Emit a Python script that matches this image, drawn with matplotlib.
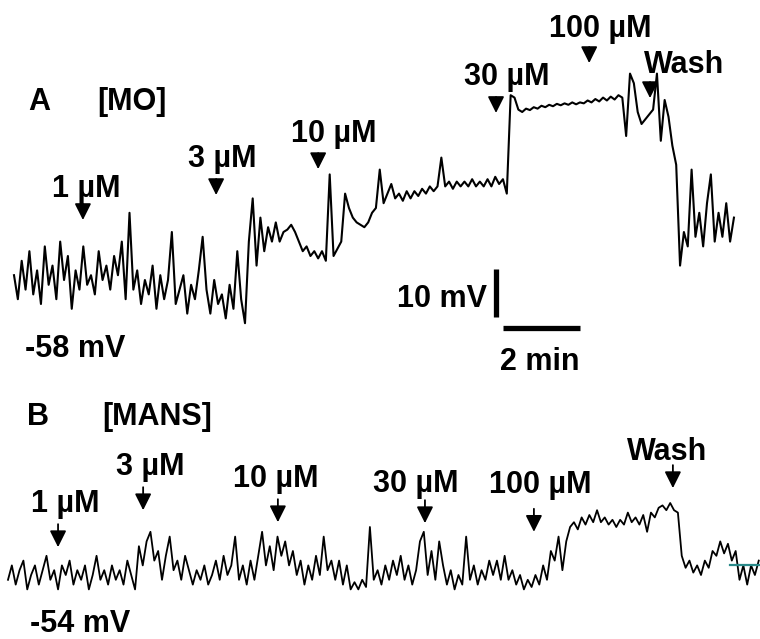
import matplotlib
matplotlib.use('Agg')
import matplotlib.pyplot as plt
import numpy as np

plt.rcParams['font.family'] = ['Liberation Sans', 'DejaVu Sans']
plt.rcParams['font.weight'] = 'bold'

dt = 0.1

# A: membrane potential during [MO] applications (mV)
mo_mv = [
    -57, -62, -54, -60, -52, -61, -56, -63, -51, -59,
    -55, -62, -50, -58, -53, -64, -56, -60, -51, -59,
    -57, -61, -52, -58, -55, -60, -53, -57, -50, -62,
    -44, -60, -56, -63, -58, -61, -55, -64, -57, -62,
    -58, -48, -63, -60, -57, -65, -59, -62, -56, -49,
    -60, -65, -58, -63, -61, -66, -59, -64, -52, -62, -67,
    -50, -41, -55, -45, -52, -47, -50, -46, -50, -48,
    -47.5, -46.5, -48, -50, -52, -51, -53, -52, -53.5, -52,
    -54, -36, -53, -51.5, -50, -40, -43, -45, -46, -46.5,
    -47, -46, -44, -43, -35, -42, -40, -38, -41, -40,
    -41.5, -39.5, -41, -39.5, -40.5, -39, -40, -38.5, -39.5, -38.5,
    -32.5, -38.5, -37.5, -39, -37.5, -38.5, -37.5, -38.5, -37, -38.5,
    -37.5, -38.5, -37, -38.5, -36.5, -38, -37, -40,
    -19.5, -20, -22.5, -23, -22.3, -22.6, -22, -22.3, -21.7, -22,
    -21.5, -21.8, -21.3, -21.6, -21.2, -21.5, -21, -21.4, -21, -21.2,
    -20.6, -21, -20.3, -20.8, -20, -20.6, -19.8, -20.4, -19.5, -20,
    -28, -15, -17, -23, -25.5, -24.5, -23.5, -22.5, -15, -29,
    -20.5, -24, -30, -34, -55, -48, -51, -35, -49, -44,
    -51, -42, -36, -50, -44, -49, -42, -50, -45,
]

# B: membrane potential during [MANS] applications (mV)
mans_mv = [
    -55, -52, -56, -53, -51, -57, -54, -52, -56, -53,
    -50, -55, -53, -57, -52, -54, -51, -56, -53, -55,
    -52, -57, -54, -50, -55, -53, -56, -52, -55, -53,
    -56, -51, -54, -57, -48, -52, -47, -45, -51, -49,
    -55, -50, -46, -53, -51, -55, -50, -53, -56, -53,
    -55, -52, -56, -54, -51, -55, -50, -54, -52, -46,
    -55, -52, -56, -51, -55, -50, -45, -52, -48, -53,
    -46, -50, -47, -52, -49, -54, -51, -56, -52, -55,
    -50, -54, -46, -53, -51, -55, -51, -56, -52, -57,
    -55.5, -57, -55, -56.5, -44, -55, -53, -56, -52, -55,
    -51, -54, -50, -55, -52, -56, -53, -47, -45, -54,
    -49, -55, -47, -52, -56, -53, -57, -54, -56, -46,
    -55, -52, -56, -53, -55, -51, -54, -51, -55, -50,
    -55, -53, -56, -54, -57, -55, -56.5, -54, -56, -52,
    -55, -49, -51, -46, -53, -47, -44, -43, -44.5, -42,
    -43.5, -41.5, -43, -40.5, -43, -42, -43.5, -42.5, -44, -42.5,
    -43.5, -41, -43, -42, -43.5, -41.5, -45, -41, -42, -40,
    -39.5, -40.5, -39, -40.5, -41, -50, -52.5, -51, -53.5, -52,
    -54, -51, -52.5, -49, -50, -47, -49.5, -47.5, -51, -49,
    -55, -52, -56, -52, -54, -51,
]

# drug applications: label, time of arrow (min), arrow tip (mV)
mo_labels = ['1 µM', '3 µM', '10 µM', '30 µM', '100 µM', 'Wash']
mo_times = [1.79, 5.25, 7.90, 12.52, 14.94, 16.52]
mo_tips = [-45.5, -40.3, -34.9, -23.2, -12.8, -20.1]

mans_labels = ['1 µM', '3 µM', '10 µM', '30 µM', '100 µM', 'Wash']
mans_times = [1.30, 3.51, 7.01, 10.83, 13.66, 17.27]
mans_tips = [-48.2, -40.5, -43.0, -43.2, -45.0, -35.9]

# label placement (time of text centre, baseline in mV)
mo_text_t = [1.87, 5.40, 8.31, 12.81, 15.22, 17.40]
mo_text_v = [-40.7, -34.5, -29.3, -17.4, -7.4, -14.9]
mans_text_t = [1.48, 3.69, 6.96, 10.60, 13.82, 17.12]
mans_text_v = [-40.9, -33.2, -35.7, -36.7, -36.9, -30.0]

W, H = 760, 639
px_min = 38.5   # pixels per minute
px_mv = 4.8     # pixels per mV

fig = plt.figure(figsize=(W / 100, H / 100), dpi=100)
axA = fig.add_axes([0, 0, 1, 1])
axB = fig.add_axes([0, 0, 1, 1])
for ax in (axA, axB):
    ax.axis('off')
    ax.patch.set_alpha(0)

# origin of each trace in pixels: (x of t=0, y of resting potential)
axA.set_xlim(-14 / px_min, (W - 14) / px_min)
axA.set_ylim(-58 - (H - 280) / px_mv, -58 + 280 / px_mv)
axB.set_xlim(-8 / px_min, (W - 8) / px_min)
axB.set_ylim(-54 - (H - 575) / px_mv, -54 + 575 / px_mv)

tA = np.arange(len(mo_mv)) * dt
tB = np.arange(len(mans_mv)) * dt
axA.plot(tA, mo_mv, color='black', lw=1.5)
axB.plot(tB, mans_mv, color='black', lw=1.3)
axB.plot([18.75, tB[-1] + 0.05], [-51.9, -51.9], color='#2a8a8a', lw=1.6)

head = 14 / px_mv


def arrows(ax, times, tips, stem, labels, text_t, text_v):
    for t, v, lab, tt, tv in zip(times, tips, labels, text_t, text_v):
        ax.annotate('', xy=(t, v), xytext=(t, v + head + stem),
                    arrowprops=dict(arrowstyle='-|>,head_length=1.0,head_width=0.5',
                                    color='black', lw=1.3, shrinkA=0, shrinkB=0))
        ax.text(tt, tv, lab, ha='center', va='baseline', fontsize=22, fontweight='bold')


arrows(axA, mo_times, mo_tips, 2 / px_mv, mo_labels, mo_text_t, mo_text_v)
arrows(axB, mans_times, mans_tips, 9 / px_mv, mans_labels, mans_text_t, mans_text_v)

# scale bars: 10 mV and 2 min
axA.plot([12.51, 12.51], [-65.8, -55.8], color='black', lw=3.8, solid_capstyle='butt')
axA.plot([12.70, 14.70], [-68.1, -68.1], color='black', lw=3.8, solid_capstyle='butt')


def label(x, y, s, ha='left'):
    fig.text(x / W, 1 - y / H, s, ha=ha, va='baseline', fontsize=22, fontweight='bold')


label(28, 110, 'A')
label(97, 110, '[MO]')
label(25, 357, '-58 mV')
label(487, 307, '10 mV', ha='right')
label(540, 370, '2 min', ha='center')
label(27, 425, 'B')
label(102, 425, '[MANS]')
label(30, 632, '-54 mV')

fig.savefig('out.png', dpi=100)
